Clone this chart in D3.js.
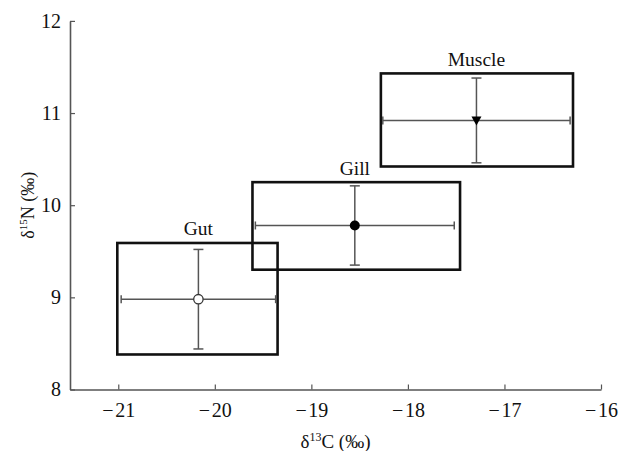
<!DOCTYPE html>
<html><head><meta charset="utf-8">
<script src="https://cdn.jsdelivr.net/npm/d3@7"></script>
<style>body{margin:0;background:#fff}svg{display:block}</style>
</head><body>
<script>
const tissues = ["Gut", "Gill", "Muscle"];
const markers = ["open", "filled", "triangle"];
const meanC = [-20.17, -18.55, -17.29];
const sdC = [0.80, 1.03, 0.97];
const meanN = [8.98, 9.78, 10.92];
const sdN = [0.54, 0.43, 0.46];
const boxCmin = [-21.01, -19.61, -18.28];
const boxCmax = [-19.35, -17.46, -16.29];
const boxNmin = [8.38, 9.30, 10.42];
const boxNmax = [9.59, 10.25, 11.43];
const xTicks = [-21, -20, -19, -18, -17, -16];
const yTicks = [8, 9, 10, 11, 12];

const W = 621, H = 451;
const m = {left: 70, right: 20, top: 20.9, bottom: 61.5};
const serif = "'Liberation Serif', 'Times New Roman', serif";
const svg = d3.select("body").append("svg").attr("width", W).attr("height", H)
  .style("font-family", serif);
const x = d3.scaleLinear().domain([-21.5, -16]).range([m.left, W - m.right]);
const y = d3.scaleLinear().domain([8, 12]).range([H - m.bottom, m.top]);

const fmt = d => d < 0 ? "\u2212\u200A" + Math.abs(d) : String(d);
const axisColor = "#555";
const gx = svg.append("g").attr("transform", `translate(0,${y(8)})`)
  .call(d3.axisBottom(x).tickValues(xTicks).tickFormat(fmt).tickSizeInner(-5).tickSizeOuter(0).tickPadding(13));
const gy = svg.append("g").attr("transform", `translate(${x(-21.5)},0)`)
  .call(d3.axisLeft(y).tickValues(yTicks).tickFormat(fmt).tickSizeInner(-5).tickSizeOuter(0).tickPadding(9));
[gx, gy].forEach(g => {
  g.select(".domain").attr("stroke", axisColor).attr("stroke-width", 1.6);
  g.selectAll(".tick line").attr("stroke", axisColor).attr("stroke-width", 1.2);
  g.selectAll(".tick text").attr("fill", "#111").style("font-size", "20px")
    .style("font-family", serif);
});

// axis titles
const xt = svg.append("text").attr("x", (x(-21.5) + x(-16)) / 2).attr("y", 448)
  .attr("text-anchor", "middle").style("font-size", "19px").attr("fill", "#111");
xt.append("tspan").text("\u03B4");
xt.append("tspan").text("13").style("font-size", "12px").attr("dy", -7);
xt.append("tspan").text("C (\u2030)").attr("dy", 7);
const yt = svg.append("text").attr("transform", `translate(34,${(y(8) + y(12)) / 2}) rotate(-90)`)
  .attr("text-anchor", "middle").style("font-size", "18px").attr("fill", "#111");
yt.append("tspan").text("\u03B4");
yt.append("tspan").text("15").style("font-size", "11px").attr("dy", -7);
yt.append("tspan").text("N (\u2030)").attr("dy", 7);

const idx = d3.range(tissues.length);
// boxes
svg.append("g").selectAll("rect").data(idx).join("rect")
  .attr("x", i => x(boxCmin[i])).attr("y", i => y(boxNmax[i]))
  .attr("width", i => x(boxCmax[i]) - x(boxCmin[i]))
  .attr("height", i => y(boxNmin[i]) - y(boxNmax[i]))
  .attr("fill", "none").attr("stroke", "#111").attr("stroke-width", 2.6);

// error bars
const eb = svg.append("g").attr("stroke", "#555").attr("stroke-width", 1.5);
idx.forEach(i => {
  const cx = x(meanC[i]), cy = y(meanN[i]);
  const x0 = x(meanC[i] - sdC[i]), x1 = x(meanC[i] + sdC[i]);
  const y0 = y(meanN[i] - sdN[i]), y1 = y(meanN[i] + sdN[i]);
  eb.append("line").attr("x1", x0).attr("x2", x1).attr("y1", cy).attr("y2", cy);
  eb.append("line").attr("x1", cx).attr("x2", cx).attr("y1", y0).attr("y2", y1);
  [x0, x1].forEach(xx => eb.append("line").attr("x1", xx).attr("x2", xx).attr("y1", cy - 4).attr("y2", cy + 4));
  [y0, y1].forEach(yy => eb.append("line").attr("x1", cx - 5).attr("x2", cx + 5).attr("y1", yy).attr("y2", yy));
});

// markers
idx.forEach(i => {
  const cx = x(meanC[i]), cy = y(meanN[i]);
  if (markers[i] === "open") {
    svg.append("circle").attr("cx", cx).attr("cy", cy).attr("r", 4.7).attr("fill", "#fff").attr("stroke", "#333").attr("stroke-width", 1.3);
  } else if (markers[i] === "filled") {
    svg.append("circle").attr("cx", cx).attr("cy", cy).attr("r", 5).attr("fill", "#000");
  } else {
    svg.append("path").attr("d", `M${cx - 5},${cy - 4}L${cx + 5},${cy - 4}L${cx},${cy + 5}Z`).attr("fill", "#000");
  }
});

// labels
svg.append("g").selectAll("text").data(idx).join("text")
  .attr("x", i => x(meanC[i])).attr("y", i => y(boxNmax[i]) - 7.5)
  .attr("text-anchor", "middle").style("font-size", "19.5px").attr("fill", "#111")
  .text(i => tissues[i]);
</script>
</body></html>
